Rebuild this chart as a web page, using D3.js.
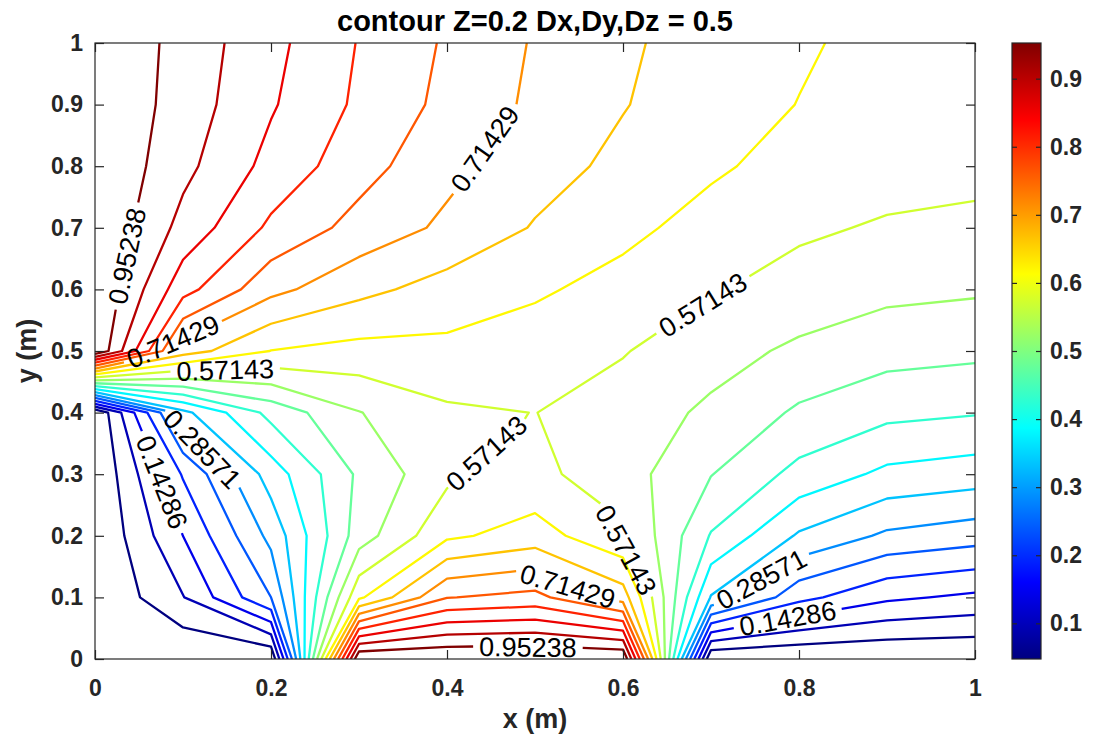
<!DOCTYPE html>
<html>
<head>
<meta charset="utf-8">
<script src="https://cdn.jsdelivr.net/npm/d3@7"></script>
<style>
  html, body { margin: 0; padding: 0; background: #ffffff; }
  svg text { font-family: "Liberation Sans", Arial, Helvetica, sans-serif; }
</style>
</head>
<body>
<svg id="chart" width="1105" height="738"></svg>
<script>
// Grid node coordinates (m)
const xNodes = [0, 0.1, 0.2, 0.3, 0.4, 0.5, 0.6, 0.7, 0.8, 0.9, 1.0];
const yNodes = [0, 0.1, 0.2, 0.3, 0.4, 0.5, 0.6, 0.7, 0.8, 0.9, 1.0];

// Field values on the grid, one row per entry of yNodes (first row is y = 0)
const zRows = [
  [0, 0,      0,     1,     1,     1,      1,     0,     0,     0,     0    ],
  [0, 0.093,  0.238, 0.61,  0.76,  0.777,  0.69,  0.33,  0.205, 0.152, 0.133],
  [0, 0.143,  0.30,  0.50,  0.61,  0.64,   0.58,  0.425, 0.327, 0.277, 0.259],
  [0, 0.195,  0.355, 0.485, 0.56,  0.583,  0.545, 0.478, 0.414, 0.370, 0.357],
  [0, 0.32,   0.444, 0.522, 0.564, 0.572,  0.552, 0.514, 0.469, 0.441, 0.432],
  [1, 0.69,   0.618, 0.604, 0.607, 0.5945, 0.574, 0.544, 0.514, 0.494, 0.487],
  [1, 0.8275, 0.728, 0.68,  0.648, 0.626,  0.602, 0.575, 0.556, 0.536, 0.530],
  [1, 0.889,  0.80,  0.745, 0.705, 0.663,  0.632, 0.60,  0.578, 0.567, 0.564],
  [1, 0.918,  0.842, 0.781, 0.727, 0.686,  0.655, 0.627, 0.600, 0.588, 0.581],
  [1, 0.931,  0.862, 0.801, 0.749, 0.705,  0.669, 0.640, 0.618, 0.598, 0.592],
  [1, 0.935,  0.871, 0.807, 0.756, 0.710,  0.675, 0.643, 0.625, 0.605, 0.598]
];

// Contour levels
const levels = [0.04762, 0.09524, 0.14286, 0.19048, 0.2381, 0.28571, 0.33333, 0.38095, 0.42857, 0.47619,
                0.52381, 0.57143, 0.61905, 0.66667, 0.71429, 0.7619, 0.80952, 0.85714, 0.90476, 0.95238];

// Inline contour labels: level and the point (m) the label sits next to
const labelLevels = [0.95238, 0.71429, 0.71429, 0.57143, 0.57143, 0.28571, 0.14286, 0.57143, 0.57143, 0.71429, 0.95238, 0.28571, 0.14286];
const labelX      = [0.040,   0.445,   0.093,   0.148,   0.691,   0.125,   0.074,   0.449,   0.606,   0.535,   0.492,   0.751,   0.786];
const labelY      = [0.653,   0.826,   0.502,   0.466,   0.575,   0.347,   0.286,   0.320,   0.182,   0.115,   0.018,   0.140,   0.075];

// Axis ticks
const xTicks  = [0, 0.2, 0.4, 0.6, 0.8, 1];
const yTicks  = [0, 0.1, 0.2, 0.3, 0.4, 0.5, 0.6, 0.7, 0.8, 0.9, 1];
const cbTicks = [0.1, 0.2, 0.3, 0.4, 0.5, 0.6, 0.7, 0.8, 0.9];

const titleText = "contour Z=0.2 Dx,Dy,Dz = 0.5";
const xLabelText = "x (m)";
const yLabelText = "y (m)";

// ---------------------------------------------------------------------------
const svg = d3.select("#chart");
const plot = { left: 95, right: 975, top: 43, bottom: 659 };
const cb = { left: 1012, right: 1041, top: 43, bottom: 659 };
const axisColor = "#262626";
const tickFont = 23;

const x = d3.scaleLinear().domain([0, 1]).range([plot.left, plot.right]);
const y = d3.scaleLinear().domain([0, 1]).range([plot.bottom, plot.top]);

const nx = xNodes.length, ny = yNodes.length;
// d3.contours places sample k at grid coordinate k + 0.5
const gx = d3.scaleLinear().domain([0.5, nx - 0.5]).range([xNodes[0], xNodes[nx - 1]]);
const gy = d3.scaleLinear().domain([0.5, ny - 0.5]).range([yNodes[0], yNodes[ny - 1]]);

// jet colour map over the level range
const cMin = levels[0], cMax = levels[levels.length - 1];
const jetStops = [0, 0.125, 0.375, 0.625, 0.875, 1];
const jetColors = ["#000080", "#0000ff", "#00ffff", "#ffff00", "#ff0000", "#800000"];
const color = d3.scaleLinear()
  .domain(jetStops.map(t => cMin + t * (cMax - cMin)))
  .range(jetColors)
  .clamp(true);

// --- contour lines --------------------------------------------------------
const contourSets = d3.contours().size([nx, ny]).thresholds(levels).smooth(true)(zRows.flat());

const eps = 1e-6;
const inside = p => p[0] >= 0.5 - eps && p[0] <= nx - 0.5 + eps && p[1] >= 0.5 - eps && p[1] <= ny - 0.5 + eps;

// Turn a closed band outline into open iso-lines by dropping the parts on the frame
function ringToLines(ring) {
  const pts = ring.slice(0, -1);
  const n = pts.length;
  const start = pts.findIndex(p => !inside(p));
  if (start < 0) return [pts.concat([pts[0]])];
  const out = [];
  let cur = [];
  for (let k = 1; k <= n; k++) {
    const p = pts[(start + k) % n];
    if (inside(p)) cur.push(p);
    else { if (cur.length > 1) out.push(cur); cur = []; }
  }
  if (cur.length > 1) out.push(cur);
  return out;
}

const levelLines = contourSets.map(c => {
  const lines = [];
  c.coordinates.forEach(poly => poly.forEach(ring => {
    ringToLines(ring).forEach(l => lines.push(l.map(p => [x(gx(p[0])), y(gy(p[1]))])));
  }));
  return { value: c.value, lines };
});

// --- label gaps -----------------------------------------------------------
const labelFont = 27;
const measure = svg.append("text").attr("font-size", labelFont).attr("visibility", "hidden");
function textWidth(s) { measure.text(s); return measure.node().getComputedTextLength(); }

function cumLen(pl) {
  const c = [0];
  for (let k = 1; k < pl.length; k++) c.push(c[k - 1] + Math.hypot(pl[k][0] - pl[k - 1][0], pl[k][1] - pl[k - 1][1]));
  return c;
}
function pointAt(pl, cum, L) {
  for (let k = 0; k < pl.length - 1; k++) {
    if (L <= cum[k + 1] || k === pl.length - 2) {
      const seg = cum[k + 1] - cum[k];
      const t = seg > 0 ? Math.max(0, Math.min(1, (L - cum[k]) / seg)) : 0;
      return [pl[k][0] + t * (pl[k + 1][0] - pl[k][0]), pl[k][1] + t * (pl[k + 1][1] - pl[k][1])];
    }
  }
  return pl[pl.length - 1];
}

const placedLabels = [];
labelLevels.forEach((lv, i) => {
  const set = levelLines.reduce((a, b) => Math.abs(b.value - lv) < Math.abs(a.value - lv) ? b : a);
  const ax = x(labelX[i]), ay = y(labelY[i]);
  let best = { d: Infinity };
  set.lines.forEach((pl, li) => {
    for (let s = 0; s < pl.length - 1; s++) {
      const a = pl[s], b = pl[s + 1];
      const dx = b[0] - a[0], dy = b[1] - a[1], l2 = dx * dx + dy * dy;
      let t = l2 > 0 ? ((ax - a[0]) * dx + (ay - a[1]) * dy) / l2 : 0;
      t = Math.max(0, Math.min(1, t));
      const px = a[0] + t * dx, py = a[1] + t * dy;
      const d = (px - ax) ** 2 + (py - ay) ** 2;
      if (d < best.d) best = { d, li, s, t };
    }
  });
  if (!isFinite(best.d)) return;
  const text = String(lv);
  const half = textWidth(text) / 2 + 6;
  const pl = set.lines[best.li];
  const cum = cumLen(pl);
  const total = cum[cum.length - 1];
  const L0 = cum[best.s] + best.t * (cum[best.s + 1] - cum[best.s]);
  const La = Math.max(0, L0 - half), Lb = Math.min(total, L0 + half);
  const pA = pointAt(pl, cum, La), pB = pointAt(pl, cum, Lb);
  const before = pl.filter((p, k) => cum[k] < La).concat([pA]);
  const after = [pB].concat(pl.filter((p, k) => cum[k] > Lb));
  const repl = [];
  if (before.length > 1 && La > 0) repl.push(before);
  if (after.length > 1 && Lb < total) repl.push(after);
  set.lines.splice(best.li, 1, ...repl);
  let ang = Math.atan2(pB[1] - pA[1], pB[0] - pA[0]) * 180 / Math.PI;
  if (ang > 90) ang -= 180;
  if (ang < -90) ang += 180;
  placedLabels.push({ text, cx: (pA[0] + pB[0]) / 2, cy: (pA[1] + pB[1]) / 2, ang });
});
measure.remove();

// --- draw -------------------------------------------------------------------
svg.append("defs").append("clipPath").attr("id", "plotClip")
  .append("rect").attr("x", plot.left).attr("y", plot.top)
  .attr("width", plot.right - plot.left).attr("height", plot.bottom - plot.top);

const line = d3.line().x(p => p[0]).y(p => p[1]);
const gLines = svg.append("g").attr("clip-path", "url(#plotClip)");
levelLines.forEach(set => {
  gLines.selectAll(null).data(set.lines).enter().append("path")
    .attr("d", line)
    .attr("fill", "none")
    .attr("stroke", color(set.value))
    .attr("stroke-width", 2.3)
    .attr("stroke-linejoin", "round");
});

svg.append("g").selectAll("text").data(placedLabels).enter().append("text")
  .attr("transform", d => `translate(${d.cx},${d.cy}) rotate(${d.ang})`)
  .attr("text-anchor", "middle")
  .attr("dy", "0.35em")
  .attr("font-size", labelFont)
  .attr("fill", "#000")
  .text(d => d.text);

// axes (inward ticks on all four sides)
function styleAxis(g, labelled) {
  g.select(".domain").remove();
  g.selectAll(".tick line").attr("stroke", axisColor).attr("stroke-width", 1.2);
  g.selectAll(".tick text").attr("fill", axisColor).attr("font-size", tickFont).attr("font-weight", "bold")
    .attr("font-family", '"Liberation Sans", Arial, Helvetica, sans-serif');
  if (!labelled) g.selectAll(".tick text").remove();
}
const fmt = d3.format("~g");
svg.append("g").attr("transform", `translate(0,${plot.bottom})`)
  .call(d3.axisBottom(x).tickValues(xTicks).tickSizeInner(-9).tickSizeOuter(0).tickPadding(21).tickFormat(fmt))
  .call(g => styleAxis(g, true));
svg.append("g").attr("transform", `translate(0,${plot.top})`)
  .call(d3.axisTop(x).tickValues(xTicks).tickSizeInner(-9).tickSizeOuter(0))
  .call(g => styleAxis(g, false));
svg.append("g").attr("transform", `translate(${plot.left},0)`)
  .call(d3.axisLeft(y).tickValues(yTicks).tickSizeInner(-9).tickSizeOuter(0).tickPadding(12).tickFormat(fmt))
  .call(g => styleAxis(g, true));
svg.append("g").attr("transform", `translate(${plot.right},0)`)
  .call(d3.axisRight(y).tickValues(yTicks).tickSizeInner(-9).tickSizeOuter(0))
  .call(g => styleAxis(g, false));

svg.append("rect")
  .attr("x", plot.left).attr("y", plot.top)
  .attr("width", plot.right - plot.left).attr("height", plot.bottom - plot.top)
  .attr("fill", "none").attr("stroke", axisColor).attr("stroke-width", 1.2);

// title and axis labels
svg.append("text").attr("x", (plot.left + plot.right) / 2).attr("y", 31)
  .attr("text-anchor", "middle").attr("font-size", 29).attr("font-weight", "bold").attr("fill", "#000")
  .text(titleText);
svg.append("text").attr("x", (plot.left + plot.right) / 2).attr("y", 728)
  .attr("text-anchor", "middle").attr("font-size", 27).attr("font-weight", "bold").attr("fill", axisColor)
  .text(xLabelText);
svg.append("text").attr("transform", `translate(36,${(plot.top + plot.bottom) / 2}) rotate(-90)`)
  .attr("text-anchor", "middle").attr("font-size", 27).attr("font-weight", "bold").attr("fill", axisColor)
  .text(yLabelText);

// colour bar
const cbScale = d3.scaleLinear().domain([cMin, cMax]).range([cb.bottom, cb.top]);
const grad = svg.select("defs").append("linearGradient").attr("id", "jetGrad")
  .attr("x1", 0).attr("y1", 1).attr("x2", 0).attr("y2", 0);
grad.selectAll("stop").data(jetStops).enter().append("stop")
  .attr("offset", d => d).attr("stop-color", (d, i) => jetColors[i]);
svg.append("rect").attr("x", cb.left).attr("y", cb.top)
  .attr("width", cb.right - cb.left).attr("height", cb.bottom - cb.top)
  .attr("fill", "url(#jetGrad)");
svg.append("g").attr("transform", `translate(${cb.right},0)`)
  .call(d3.axisRight(cbScale).tickValues(cbTicks).tickSizeInner(-5).tickSizeOuter(0).tickPadding(9).tickFormat(fmt))
  .call(g => styleAxis(g, true));
svg.append("g").attr("transform", `translate(${cb.left},0)`)
  .call(d3.axisLeft(cbScale).tickValues(cbTicks).tickSizeInner(-5).tickSizeOuter(0))
  .call(g => styleAxis(g, false));
svg.append("rect").attr("x", cb.left).attr("y", cb.top)
  .attr("width", cb.right - cb.left).attr("height", cb.bottom - cb.top)
  .attr("fill", "none").attr("stroke", axisColor).attr("stroke-width", 1.2);
</script>
</body>
</html>
